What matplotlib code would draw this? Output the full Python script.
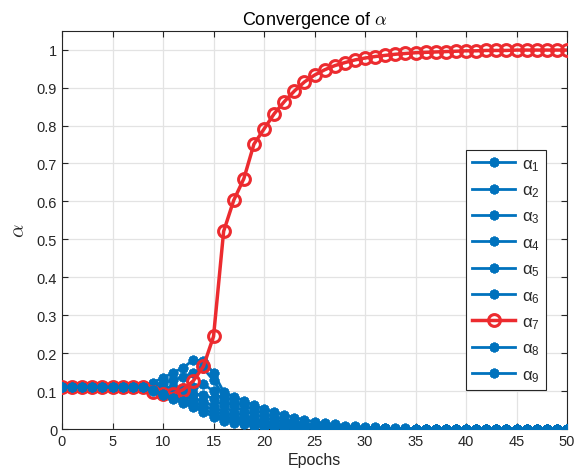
import matplotlib
matplotlib.use("Agg")
import matplotlib.pyplot as plt
import numpy as np

plt.rcParams['font.family'] = ['Liberation Sans', 'DejaVu Sans']
plt.rcParams['mathtext.fontset'] = 'cm'

epochs = np.arange(0, 51)

# alpha_7 (the winner)
alpha7 = [0.111, 0.111, 0.111, 0.111, 0.111, 0.111, 0.111, 0.111, 0.111, 0.098,
          0.093, 0.093, 0.104, 0.127, 0.165, 0.244, 0.521, 0.603, 0.660, 0.751,
          0.791, 0.831, 0.863, 0.891, 0.915, 0.933, 0.947, 0.958, 0.966, 0.973,
          0.978, 0.982, 0.985, 0.988, 0.990, 0.992, 0.993, 0.994, 0.995, 0.996,
          0.997, 0.997, 0.998, 0.998, 0.998, 0.999, 0.999, 0.999, 0.999, 0.999, 0.999]

plateau = [0.111, 0.111, 0.111, 0.111, 0.111, 0.111, 0.111, 0.111, 0.111]

# the other alphas, epochs 9..50
alpha1 = plateau + [0.122, 0.135, 0.148, 0.162, 0.182, 0.180, 0.148, 0.098, 0.085, 0.075,
                    0.062, 0.053, 0.044, 0.037, 0.030, 0.024, 0.019, 0.015, 0.012, 0.009,
                    0.007, 0.005, 0.004, 0.003, 0.002, 0.002, 0.001, 0.001, 0.001, 0.001,
                    0.001, 0.001, 0.000, 0.000, 0.000, 0.000, 0.000, 0.000, 0.000, 0.000,
                    0.000, 0.000]
alpha2 = plateau + [0.115, 0.122, 0.128, 0.138, 0.148, 0.160, 0.128, 0.088, 0.072, 0.062,
                    0.050, 0.040, 0.032, 0.025, 0.019, 0.015, 0.011, 0.008, 0.006, 0.005,
                    0.004, 0.003, 0.002, 0.002, 0.001, 0.001, 0.001, 0.001, 0.000, 0.000,
                    0.000, 0.000, 0.000, 0.000, 0.000, 0.000, 0.000, 0.000, 0.000, 0.000,
                    0.000, 0.000]
alpha3 = plateau + [0.112, 0.112, 0.110, 0.108, 0.112, 0.118, 0.100, 0.075, 0.060, 0.048,
                    0.038, 0.030, 0.023, 0.018, 0.014, 0.011, 0.008, 0.006, 0.005, 0.004,
                    0.003, 0.002, 0.002, 0.001, 0.001, 0.001, 0.000, 0.000, 0.000, 0.000,
                    0.000, 0.000, 0.000, 0.000, 0.000, 0.000, 0.000, 0.000, 0.000, 0.000,
                    0.000, 0.000]
alpha4 = plateau + [0.108, 0.104, 0.100, 0.096, 0.092, 0.090, 0.080, 0.060, 0.045, 0.035,
                    0.027, 0.021, 0.016, 0.012, 0.009, 0.007, 0.005, 0.004, 0.003, 0.002,
                    0.002, 0.001, 0.001, 0.001, 0.000, 0.000, 0.000, 0.000, 0.000, 0.000,
                    0.000, 0.000, 0.000, 0.000, 0.000, 0.000, 0.000, 0.000, 0.000, 0.000,
                    0.000, 0.000]
alpha5 = plateau + [0.106, 0.098, 0.092, 0.086, 0.080, 0.074, 0.060, 0.045, 0.034, 0.026,
                    0.020, 0.015, 0.011, 0.008, 0.006, 0.005, 0.004, 0.003, 0.002, 0.001,
                    0.001, 0.001, 0.000, 0.000, 0.000, 0.000, 0.000, 0.000, 0.000, 0.000,
                    0.000, 0.000, 0.000, 0.000, 0.000, 0.000, 0.000, 0.000, 0.000, 0.000,
                    0.000, 0.000]
alpha6 = plateau + [0.104, 0.095, 0.087, 0.079, 0.070, 0.062, 0.050, 0.036, 0.026, 0.020,
                    0.015, 0.011, 0.008, 0.006, 0.004, 0.003, 0.002, 0.002, 0.001, 0.001,
                    0.000, 0.000, 0.000, 0.000, 0.000, 0.000, 0.000, 0.000, 0.000, 0.000,
                    0.000, 0.000, 0.000, 0.000, 0.000, 0.000, 0.000, 0.000, 0.000, 0.000,
                    0.000, 0.000]
alpha8 = plateau + [0.103, 0.092, 0.083, 0.073, 0.063, 0.054, 0.040, 0.028, 0.020, 0.015,
                    0.011, 0.008, 0.006, 0.004, 0.003, 0.002, 0.002, 0.001, 0.001, 0.000,
                    0.000, 0.000, 0.000, 0.000, 0.000, 0.000, 0.000, 0.000, 0.000, 0.000,
                    0.000, 0.000, 0.000, 0.000, 0.000, 0.000, 0.000, 0.000, 0.000, 0.000,
                    0.000, 0.000]
alpha9 = plateau + [0.101, 0.090, 0.080, 0.068, 0.058, 0.046, 0.032, 0.022, 0.016, 0.012,
                    0.009, 0.006, 0.004, 0.003, 0.002, 0.002, 0.001, 0.001, 0.000, 0.000,
                    0.000, 0.000, 0.000, 0.000, 0.000, 0.000, 0.000, 0.000, 0.000, 0.000,
                    0.000, 0.000, 0.000, 0.000, 0.000, 0.000, 0.000, 0.000, 0.000, 0.000,
                    0.000, 0.000]

series = [alpha1, alpha2, alpha3, alpha4, alpha5, alpha6, alpha7, alpha8, alpha9]
blue = '#0072BD'
red = '#EC2B2F'
axcol = '#262626'

fig = plt.figure(figsize=(5.74, 4.77), dpi=100)
ax = fig.add_axes([0.108, 0.0985, 0.88, 0.835])

for i, s in enumerate(series):
    lab = r'$\mathregular{\alpha_{%d}}$' % (i + 1)
    if i == 6:
        ax.plot(epochs, s, color=red, lw=2.5, marker='o', ms=8.5, mfc='none',
                mew=2.2, label=lab, zorder=3)
    else:
        ax.plot(epochs, s, color=blue, lw=2, marker=(8, 2, 0), ms=7,
                mew=2.0, label=lab, zorder=3)

ax.set_xlim(0, 50)
ax.set_ylim(0, 1.05)
ax.set_xticks(np.arange(0, 51, 5))
ax.set_yticks(np.arange(0, 1.01, 0.1))
ax.set_yticklabels(['0', '0.1', '0.2', '0.3', '0.4', '0.5', '0.6', '0.7', '0.8', '0.9', '1'])
ax.grid(True, color='#e3e3e3', lw=0.9)
ax.set_axisbelow(True)
ax.tick_params(direction='in', top=True, right=True, labelsize=10.5,
               colors=axcol, length=4, width=0.8)
for sp in ax.spines.values():
    sp.set_color(axcol)
    sp.set_linewidth(0.8)

ax.set_xlabel('Epochs', fontsize=11.5, color=axcol, labelpad=3)
ax.set_ylabel(r'$\alpha$', fontsize=15, color=axcol, labelpad=6)
ax.set_title(r'Convergence of $\alpha$', fontsize=13, color='black', pad=5)

leg = ax.legend(loc='upper left', bbox_to_anchor=(0.8, 0.70), fontsize=12,
                labelspacing=0.58, handlelength=2.6, handletextpad=0.4,
                borderpad=0.35, fancybox=False, framealpha=1, borderaxespad=0)
leg.get_frame().set_edgecolor(axcol)
leg.get_frame().set_linewidth(0.8)
for t in leg.get_texts():
    t.set_color(axcol)

fig.savefig('out.png', dpi=100)
